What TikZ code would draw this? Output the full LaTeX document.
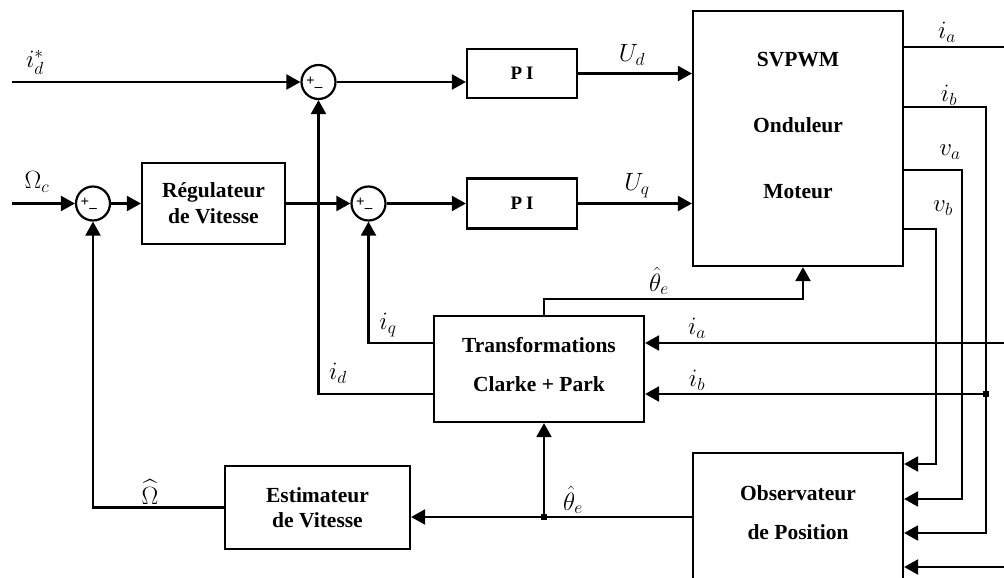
\RequirePackage{fix-cm}
\documentclass[tikz,border=0pt]{standalone}
\usepackage{amsmath}
\usepackage{fontspec}
\newfontfamily\lsbfam{Liberation Serif}
\usetikzlibrary{arrows.meta}
\newcommand{\boxfnt}{\lsbfam\bfseries\fontsize{21.5}{26}\selectfont}
\newcommand{\pifnt}{\lsbfam\bfseries\fontsize{19}{22}\selectfont}
\newcommand{\mfnt}{\fontsize{25}{29}\selectfont}
\begin{document}
\begin{tikzpicture}[x=1pt,y=-1pt,
  box/.style={draw, line width=2.2pt, inner sep=0pt, align=center, font=\boxfnt},
  txt/.style={inner sep=0pt, align=center},
  sumnode/.style={circle, draw, line width=2.2pt, minimum size=34pt, inner sep=0pt,
    path picture={
      \node[inner sep=0pt, font=\lsbfam\bfseries\fontsize{15}{15}\selectfont] at ([xshift=-8pt,yshift=1pt]path picture bounding box.center) {+};
      \node[inner sep=0pt, font=\lsbfam\bfseries\fontsize{15}{15}\selectfont] at ([xshift=0pt,yshift=-7pt]path picture bounding box.center) {\textendash};
    }},
  wire/.style={line width=2.2pt},
  arr/.style={wire, -{Triangle[length=14pt,width=15pt]}},
  lbl/.style={font=\mfnt, inner sep=0pt},
  dot/.style={rectangle, fill, inner sep=0pt, minimum size=6pt}]
\useasboundingbox (0,0) rectangle (1004,578);
\clip (0,0) rectangle (1004,578);

% summing junctions
\node[sumnode] (s0) at (93,203.5) {};
\node[sumnode] (s1) at (318.5,82) {};
\node[sumnode] (s2) at (368.5,203.5) {};

% blocks
\node[box, minimum width=143pt, minimum height=81pt] (reg) at (213.5,203.5) {Régulateur\\de Vitesse};
\node[box, minimum width=110pt, minimum height=49pt, font=\pifnt] (pi1) at (522,73.5) {P\hspace{4pt}I};
\node[box, minimum width=110pt, minimum height=50pt, font=\pifnt] (pi2) at (522,203.5) {P\hspace{4pt}I};
\node[box, minimum width=210pt, minimum height=255pt] (svp) at (798,138.5) {};
\node[txt, font=\lsbfam\bfseries\fontsize{21.5}{66}\selectfont] (svptxt) at (798,126) {SVPWM\\Onduleur\\Moteur};
\node[box, minimum width=210pt, minimum height=106pt] (tr) at (539,369) {};
\node[txt, font=\lsbfam\bfseries\fontsize{21.5}{39}\selectfont] (trtxt) at (539,365) {Transformations\\Clarke + Park};
\node[box, minimum width=185pt, minimum height=83pt, font=\lsbfam\bfseries\fontsize{21.5}{25}\selectfont] (est) at (317.5,507.5) {Estimateur\\de Vitesse};
\node[box, minimum width=210pt, minimum height=174pt] (obs) at (798,540) {};
\node[txt, font=\lsbfam\bfseries\fontsize{21.5}{39}\selectfont] (obstxt) at (798,512.5) {Observateur\\de Position};

% helper coordinates
\coordinate (idin) at (12,82);
\coordinate (omin) at (12,203.5);
\coordinate (thtop) at (544,299);
\coordinate (jth) at (544,517);
\coordinate (xvb) at (936,0);
\coordinate (xva) at (962,0);
\coordinate (xib) at (986,0);
\coordinate (xedge) at (1014,0);
\coordinate (ya) at (0,47);
\coordinate (yb) at (0,107);
\coordinate (yva) at (0,170);
\coordinate (yvb) at (0,229);
\coordinate (yia2) at (0,343);
\coordinate (yib2) at (0,394);
\coordinate (y1) at (0,464);
\coordinate (y2) at (0,499);
\coordinate (y3) at (0,533);
\coordinate (y4) at (0,567);

% forward path
\draw[arr] (idin) -- (s1.west);
\draw[arr] (omin) -- (s0.west);
\draw[arr] (s0.east) -- (reg.west);
\draw[arr] (reg.east) -- (s2.west);
\draw[arr] (s1.east) -- (s1.east -| pi1.west);
\draw[arr] (s2.east) -- (pi2.west);
\draw[arr] (pi1.east) -- (pi1.east -| svp.west);
\draw[arr] (pi2.east) -- (pi2.east -| svp.west);

% feedback
\draw[arr] (tr.west |- yib2) -| (s1.south);
\draw[arr] (tr.west |- yia2) -| (s2.south);
\draw[arr] (est.west) -| (s0.south);
\draw[arr] (thtop |- tr.north) -- (thtop) -| ([xshift=5pt]svp.south);
\draw[arr] (jth -| obs.west) -- (jth -| est.east);
\draw[arr] (jth) -- (jth |- tr.south);
\node[dot] (jthdot) at (jth) {};

% right-hand measurements
\draw[wire] (svp.east |- ya) -- (xedge |- ya);
\draw[arr] (svp.east |- yb) -| (xib |- y3) -- (obs.east |- y3);
\draw[arr] (svp.east |- yva) -| (xva |- y2) -- (obs.east |- y2);
\draw[arr] (svp.east |- yvb) -| (xvb |- y1) -- (obs.east |- y1);
\draw[arr] (xedge |- yia2) -- (tr.east |- yia2);
\draw[arr] (xib |- yib2) -- (tr.east |- yib2);
\node[dot] (ibdot) at (xib |- yib2) {};
\draw[arr] (xedge |- y4) -- (obs.east |- y4);

% labels
\node[lbl] (lidstar) at (35,62) {$i_d^*$};
\node[lbl] (lomc) at (37,182) {$\Omega_c$};
\node[lbl] (lud) at (632,55) {$U_d$};
\node[lbl] (luq) at (637,186) {$U_q$};
\node[lbl] (lia) at (947,32) {$i_a$};
\node[lbl] (lib) at (949,95) {$i_b$};
\node[lbl] (lva) at (950,152) {$v_a$};
\node[lbl] (lvb) at (943,208) {$v_b$};
\node[lbl] (lth1) at (659,281) {$\hat{\theta}_e$};
\node[lbl] (lia2) at (697,328) {$i_a$};
\node[lbl] (lib2) at (697,380) {$i_b$};
\node[lbl] (liq) at (388,325) {$i_q$};
\node[lbl] (lid) at (338,373) {$i_d$};
\node[lbl] (lom) at (150,492) {$\widehat{\Omega}$};
\node[lbl] (lth2) at (573,500) {$\hat{\theta}_e$};
\end{tikzpicture}
\end{document}
